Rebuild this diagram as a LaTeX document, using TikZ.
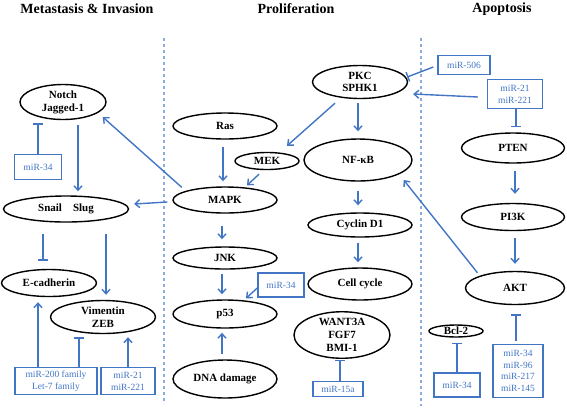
\documentclass[tikz,border=0pt]{standalone}
\usepackage{fontspec}
\setmainfont{Liberation Serif}
\usepackage{tikz}
\usetikzlibrary{calc,shapes.geometric,arrows.meta}
\definecolor{bleu}{RGB}{66,118,196}
\definecolor{bleuclair}{RGB}{140,172,220}
\tikzstyle{gene} = [ellipse, draw=black, line width=1.4pt, inner sep=0pt, align=center, font=\fontsize{11}{12.8}\selectfont\bfseries]
\tikzstyle{mirna} = [rectangle, draw=bleu, line width=1.4pt, inner sep=0pt, align=center, text=bleu, font=\fontsize{9.5}{11.7}\selectfont]
\tikzstyle{titre} = [font=\fontsize{14}{16}\selectfont\bfseries]
\tikzstyle{active} = [draw=bleu, line width=1.4pt, -{Straight Barb[length=4.5pt,width=8pt]}]
\tikzstyle{inhibe} = [draw=bleu, line width=1.4pt, -{Bar[width=10pt]}]

\begin{document}
\begin{tikzpicture}[x=1pt, y=-1pt]

        \useasboundingbox (0,0) rectangle (567,408);

        %% titles
        \node (T1) [titre] at (87,9) {Metastasis \& Invasion};
        \node (T2) [titre] at (296,9) {Proliferation};
        \node (T3) [titre] at (502,9) {Apoptosis};

        \draw[bleuclair, line width=1.2pt, dash pattern=on 3pt off 3pt] (164,38) -- (164,404);
        \draw[bleuclair, line width=1.2pt, dash pattern=on 3pt off 3pt] (421,38) -- (421,406);

        %% metastasis
        \node (Notch) [gene, minimum width=86, minimum height=35] at (63,102) {Notch\\Jagged-1};
        \node (Snail) [gene, minimum width=125, minimum height=26] at (66,209) {Snail\quad Slug};
        \node (Ecad) [gene, minimum width=95, minimum height=27] at (49,283) {E-cadherin};
        \node (Vim) [gene, minimum width=105, minimum height=33] at (103,317) {Vimentin\\ZEB};

        \node (Mir34a) [mirna, minimum width=47, minimum height=25] at (38,167) {miR-34};
        \node (Mir200) [mirna, minimum width=82, minimum height=27] at (56,381) {miR-200 family\\Let-7 family};
        \node (Mir21a) [mirna, minimum width=54, minimum height=27] at (128,381) {miR-21\\miR-221};

        %% proliferation
        \node (Ras) [gene, minimum width=104, minimum height=26] at (225,126) {Ras};
        \node (MEK) [gene, minimum width=64, minimum height=17] at (267,161) {MEK};
        \node (MAPK) [gene, minimum width=104, minimum height=26] at (225,200) {MAPK};
        \node (JNK) [gene, minimum width=104, minimum height=22] at (225,258) {JNK};
        \node (P53) [gene, minimum width=104, minimum height=28] at (225,314) {p53};
        \node (DNA) [gene, minimum width=104, minimum height=38] at (225,379) {DNA damage};
        \node (PKC) [gene, minimum width=95, minimum height=33] at (360,82) {PKC\\SPHK1};
        \node (NFkB) [gene, minimum width=108, minimum height=42] at (358,160) {NF-κB};
        \node (Cyclin) [gene, minimum width=104, minimum height=24] at (360,225) {Cyclin D1};
        \node (Cycle) [gene, minimum width=104, minimum height=32] at (360,284) {Cell cycle};
        \node (Want) [gene, minimum width=96, minimum height=44] at (342,335) {WANT3A\\FGF7\\BMI-1};

        \node (Mir34b) [mirna, minimum width=46, minimum height=24] at (281,285) {miR-34};
        \node (Mir15) [mirna, minimum width=50, minimum height=15] at (338,389) {miR-15a};

        %% apoptosis
        \node (PTEN) [gene, minimum width=103, minimum height=30] at (513,148) {PTEN};
        \node (PI3K) [gene, minimum width=103, minimum height=27] at (513,217) {PI3K};
        \node (AKT) [gene, minimum width=99, minimum height=33] at (515,288) {AKT};
        \node (Bcl) [gene, minimum width=54, minimum height=12, inner sep=-1.5pt] at (456,331) {Bcl-2};

        \node (Mir506) [mirna, minimum width=52, minimum height=19] at (464,65) {miR-506};
        \node (Mir21b) [mirna, minimum width=55, minimum height=29] at (515,94) {miR-21\\miR-221};
        \node (Mir34c) [mirna, minimum width=46, minimum height=24] at (457,385) {miR-34};
        \node (Mir96) [mirna, minimum width=50, minimum height=53] at (518,371) {miR-34\\miR-96\\miR-217\\miR-145};


        %% relations
        \draw[active] ($(Notch.south)+(15,5)$) -- ($(Snail.north)+(12,-4)$);
        \draw[inhibe] (Mir34a.north) -- ($(Notch.south)+(-25,3)$);
        \draw[inhibe] ($(Snail.south)+(-23,11)$) -- ($(Ecad.north)+(-6,-8)$);
        \draw[active] ($(Snail.south)+(40,11)$) -- ($(Vim.north)+(3,-5)$);
        \draw[active] ($(Mir200.north)+(-18,0)$) -- ($(Ecad.south)+(-11,5)$);
        \draw[inhibe] ($(Mir200.north)+(23,0)$) -- ($(Vim.south)+(-24,3)$);
        \draw[active] (Mir21a.north) -- ($(Vim.south)+(25,3)$);
        \draw[active] ($(MAPK.north west)+(-6,-3)$) -- ($(Notch.east)+(-4,15)$);
        \draw[active] ($(MAPK.west)+(-5,2)$) -- ($(Snail.east)+(5,-5)$);

        \draw[active] ($(Ras.south)+(-2,7)$) -- ($(MAPK.north)+(-2,-5)$);
        \draw[active] ($(PKC.south)+(-25,4)$) -- ($(MEK.north)+(20,-6)$);
        \draw[active] ($(MEK.south)+(-8,4)$) -- ($(MAPK.north)+(22,-1)$);
        \draw[active] ($(PKC.south)+(-2,4)$) -- ($(NFkB.north)+(0,-7)$);
        \draw[active] ($(NFkB.south)+(0,9)$) -- ($(Cyclin.north)+(-2,-7)$);
        \draw[active] ($(MAPK.south)+(-3,12)$) -- ($(JNK.north)+(-3,-7)$);
        \draw[active] ($(JNK.south)+(-3,4)$) -- ($(P53.north)+(-3,-5)$);
        \draw[active] ($(Mir34b.west)+(0,3)$) -- ($(P53.north)+(21,-1)$);
        \draw[active] ($(DNA.north)+(-3,-5)$) -- ($(P53.south)+(-3,4)$);
        \draw[active] ($(Cyclin.south)+(-2,5)$) -- ($(Cycle.north)+(-2,-5)$);
        \draw[inhibe] ($(Mir15.north)+(2,0)$) -- ($(Want.south)+(-2,1)$);

        \draw[inhibe] ($(Mir506.west)+(-4,2)$) -- ($(PKC.east)+(-1,-5)$);
        \draw[active] ($(Mir21b.west)+(-9,3)$) -- ($(PKC.east)+(5,12)$);
        \draw[inhibe] ($(Mir21b.south)+(1,0)$) -- ($(PTEN.north)+(3,-5)$);
        \draw[active] ($(PTEN.south)+(2,7)$) -- ($(PI3K.north)+(2,-9)$);
        \draw[active] ($(PI3K.south)+(2,7)$) -- ($(AKT.north)+(0,-7)$);
        \draw[active] ($(AKT.north west)+(-2,-3)$) -- ($(NFkB.east)+(-9,20)$);
        \draw[inhibe] ($(Mir96.north)+(-2,-3)$) -- ($(AKT.south)+(1,9)$);
        \draw[inhibe] (Mir34c.north) -- ($(Bcl.south)+(1,5)$);

    \end{tikzpicture}
\end{document}
